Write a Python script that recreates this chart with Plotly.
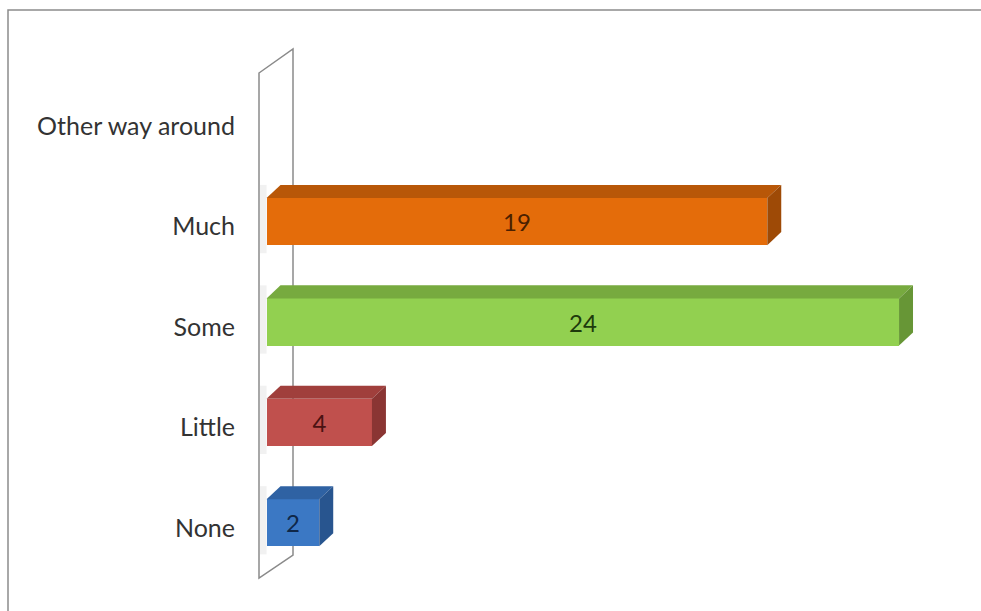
import plotly.graph_objects as go

# ---- data ----
categories = ["None", "Little", "Some", "Much", "Other way around"]
values = [2, 4, 24, 19, 0]

front_colors = ["#3b78c4", "#c0504d", "#92d050", "#e46c0a", "#e46c0a"]
top_colors = ["#2f62a3", "#a03f3c", "#77aa3f", "#b85708", "#b85708"]
side_colors = ["#28558f", "#8a3533", "#679636", "#9e4a06", "#9e4a06"]
text_colors = ["#0f2748", "#4a1212", "#1e3a0c", "#4a2000", "#4a2000"]

# ---- geometry (styling) ----
W, H = 981, 611
ML, MR, MT, MB = 256, 0, 76, 33
XMIN, XMAX = -0.4, 27.11
YMIN, YMAX = -0.5, 4.5
BAR_W = 0.47
SHIFT = 0.05          # front face centre above tick
DX = 0.53             # depth in value units
DY = 0.13             # depth in category units
WALL_X = -0.26        # wall left edge in value units

pw = W - ML - MR
ph = H - MT - MB


def px(xp):
    return (xp - ML) / pw


def py(yp):
    return (H - MB - yp) / ph


pos = list(range(len(categories)))

fig = go.Figure()

# faint shadows of the bars on the back wall
for p, v in zip(pos, values):
    if not v:
        continue
    yb = p + SHIFT - BAR_W / 2 - 0.08
    yt = p + SHIFT + BAR_W / 2 + DY
    fig.add_trace(go.Scatter(
        x=[WALL_X, 0, 0, WALL_X, WALL_X], y=[yb, yb, yt, yt, yb],
        fill="toself", fillcolor="rgba(190,190,190,0.22)", mode="lines",
        line=dict(width=0), hoverinfo="skip", showlegend=False))

fig.add_trace(go.Bar(
    y=pos, x=values, orientation="h", base=0,
    width=BAR_W, offset=-BAR_W / 2 + SHIFT,
    marker=dict(color=front_colors, line=dict(width=0)),
    text=[str(v) if v else "" for v in values],
    textposition="inside", insidetextanchor="middle", textangle=0,
    insidetextfont=dict(family="Lato, sans-serif", size=24, color=text_colors),
    hoverinfo="skip", showlegend=False,
))

for p, v, tc, sc in zip(pos, values, top_colors, side_colors):
    if not v:
        continue
    yb = p + SHIFT - BAR_W / 2
    yt = p + SHIFT + BAR_W / 2
    # top face
    fig.add_trace(go.Scatter(
        x=[0, v, v + DX, DX, 0], y=[yt, yt, yt + DY, yt + DY, yt],
        fill="toself", fillcolor=tc, mode="lines",
        line=dict(width=0, color=tc), hoverinfo="skip", showlegend=False))
    # side face
    fig.add_trace(go.Scatter(
        x=[v, v + DX, v + DX, v, v], y=[yb, yb + DY, yt + DY, yt, yb],
        fill="toself", fillcolor=sc, mode="lines",
        line=dict(width=0, color=sc), hoverinfo="skip", showlegend=False))

shapes = []
# outer chart border
shapes.append(dict(type="rect", xref="paper", yref="paper",
                   x0=px(8), y0=py(640), x1=px(1010), y1=py(10),
                   line=dict(color="#8c8c8c", width=1.5), layer="below"))
# back wall
wall = [(259, 73), (293, 49), (293, 555), (259, 578)]
path = "M " + " L ".join(f"{px(a)},{py(b)}" for a, b in wall) + " Z"
shapes.append(dict(type="path", xref="paper", yref="paper", path=path,
                   fillcolor="white", line=dict(color="#8a8a8a", width=1.5),
                   layer="below"))

fig.update_layout(
    width=W, height=H,
    margin=dict(l=ML, r=MR, t=MT, b=MB, pad=0),
    paper_bgcolor="white", plot_bgcolor="rgba(0,0,0,0)",
    shapes=shapes,
    bargap=0,
    xaxis=dict(range=[XMIN, XMAX], visible=False, fixedrange=True),
    yaxis=dict(range=[YMIN, YMAX], tickvals=pos, ticktext=categories,
               showgrid=False, zeroline=False, showline=False,
               ticks="outside", ticklen=15, tickcolor="rgba(0,0,0,0)",
               tickfont=dict(family="Lato, sans-serif", size=25, color="#333333"),
               fixedrange=True),
)

fig.write_html("out.html", config={"displayModeBar": False},
               post_script="document.body.style.margin='0px';")
